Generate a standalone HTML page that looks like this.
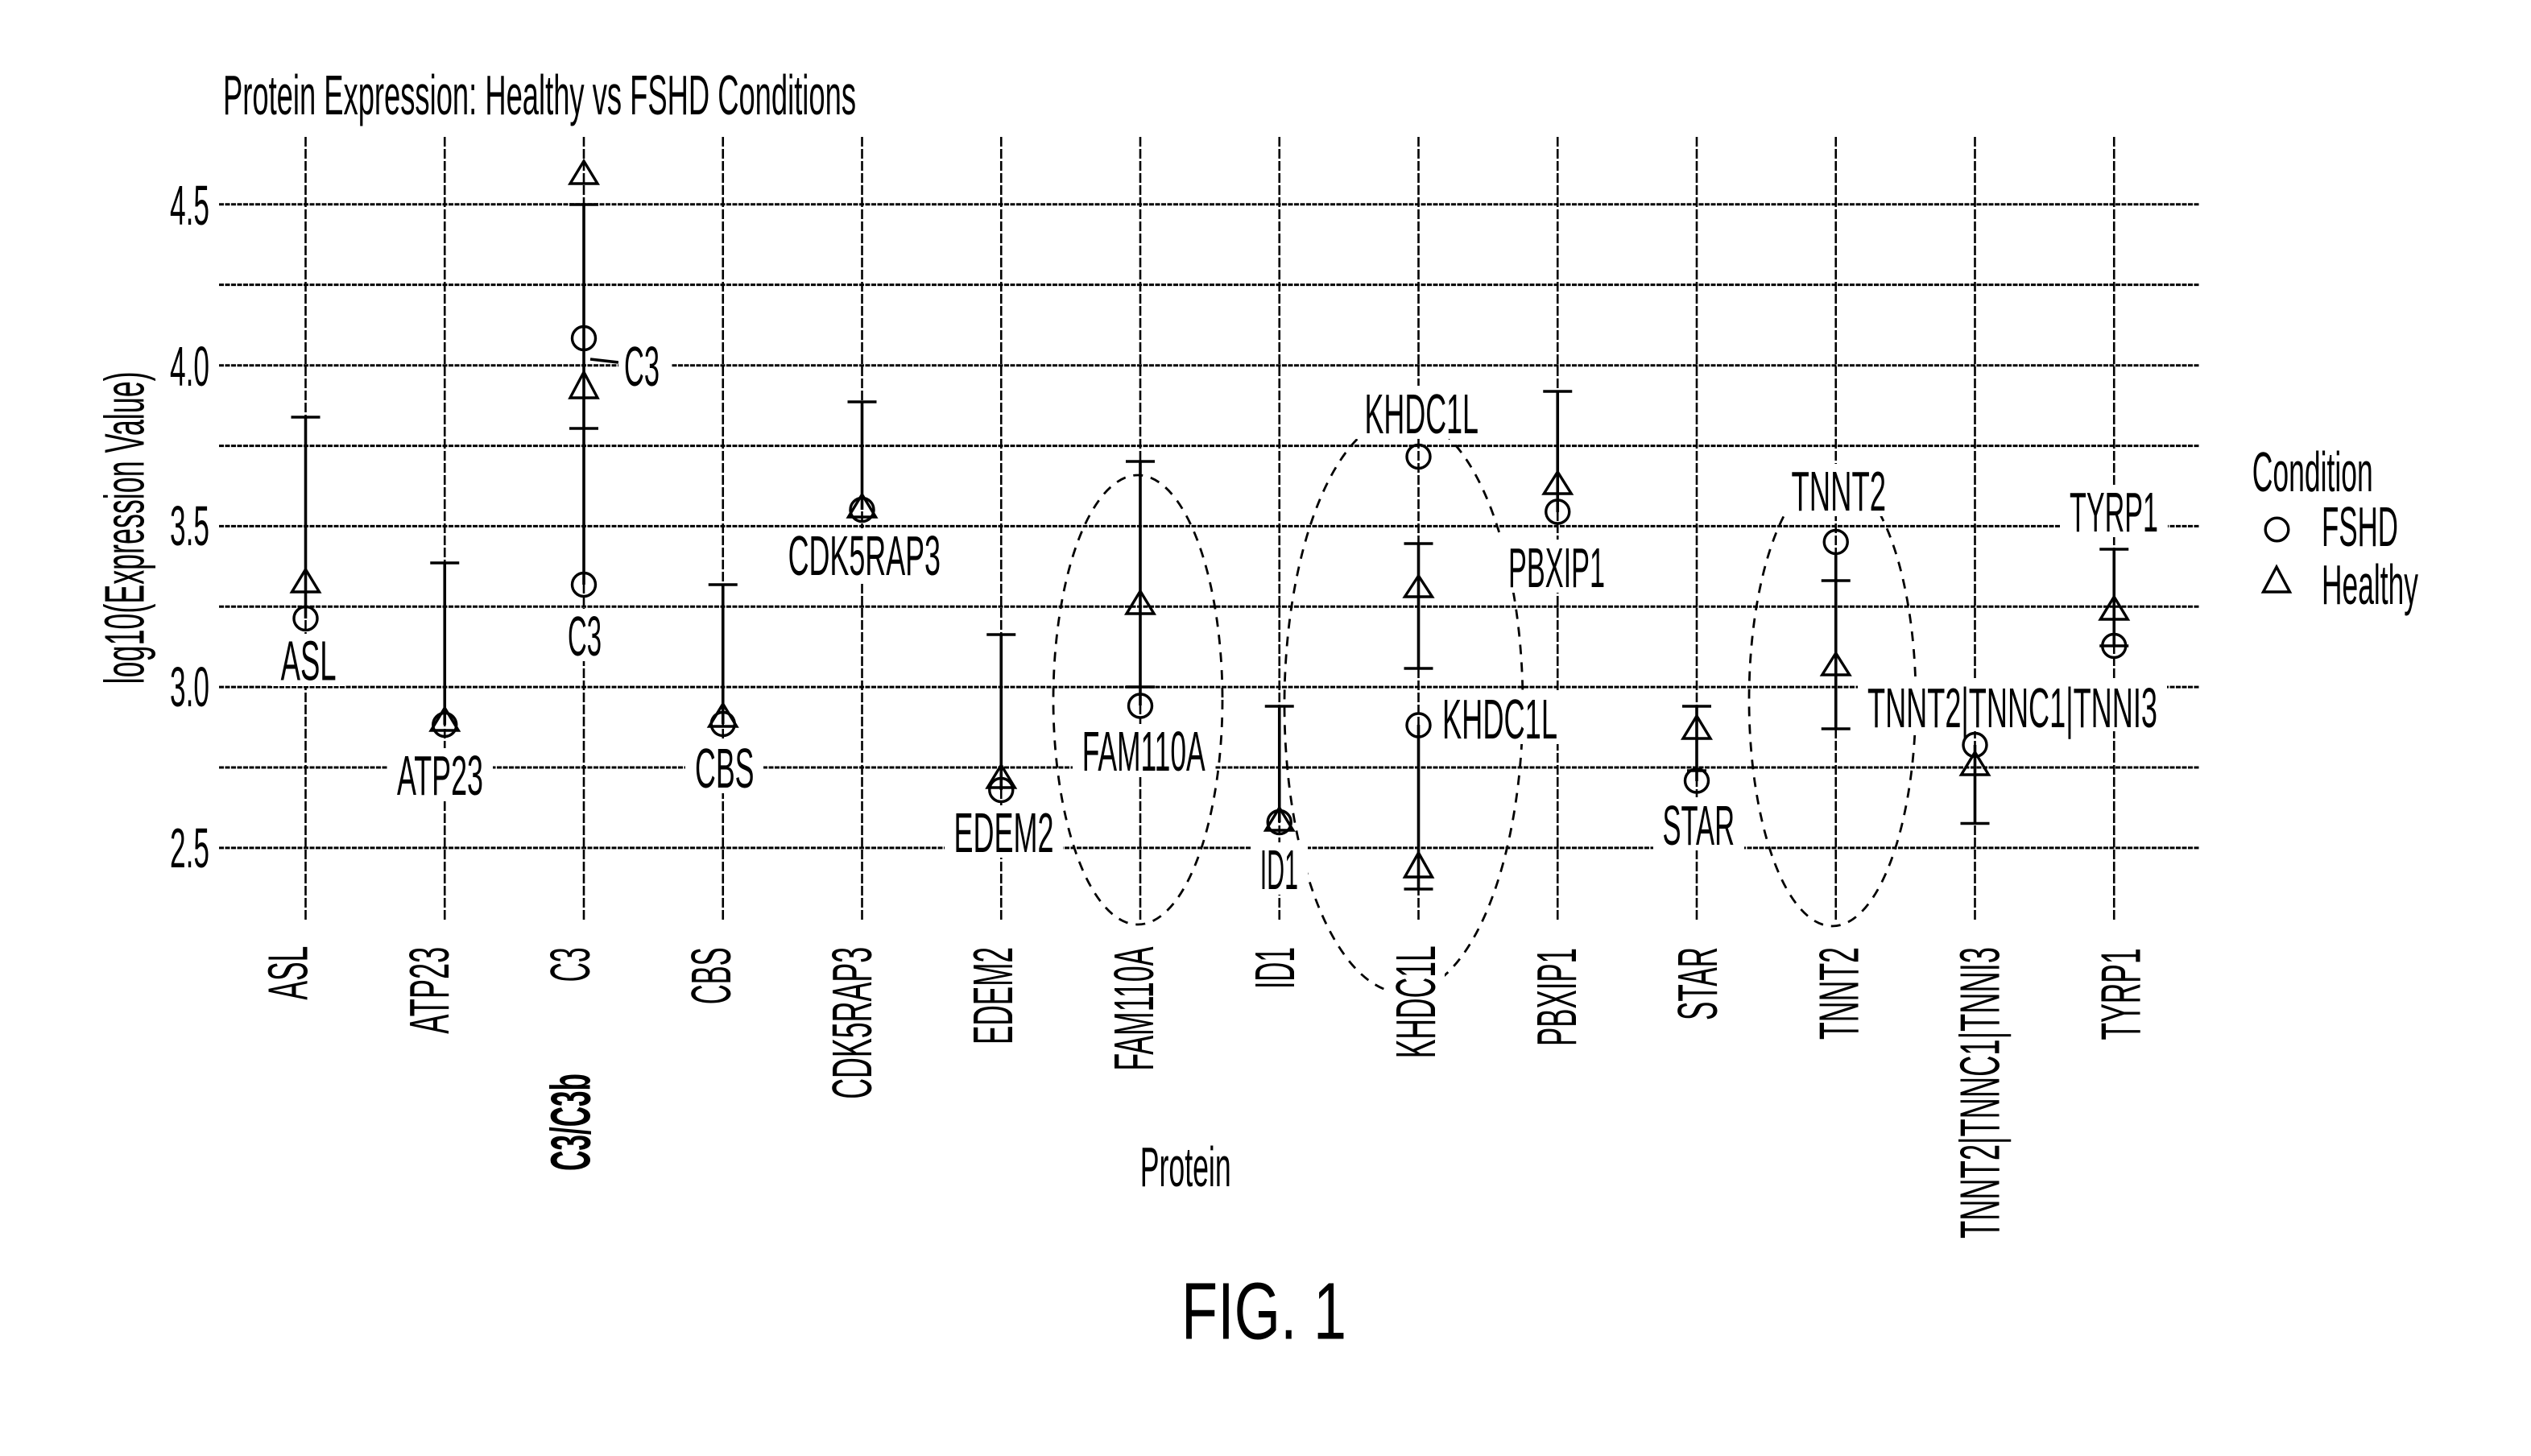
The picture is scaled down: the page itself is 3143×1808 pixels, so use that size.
<!DOCTYPE html>
<html>
<head>
<meta charset="utf-8">
<style>
  html, body { margin:0; padding:0; background:#fff; }
  svg { display:block; }
  text { font-family: "Liberation Sans", "DejaVu Sans", sans-serif; fill:#000; }
</style>
</head>
<body>
<svg xmlns="http://www.w3.org/2000/svg" width="3143" height="1808" viewBox="0 0 3143 1808">
  <rect x="0" y="0" width="3143" height="1808" fill="#fff"/>

  <!-- Title -->
  <text x="277" y="142" font-size="70" textLength="786" lengthAdjust="spacingAndGlyphs">Protein Expression: Healthy vs FSHD Conditions</text>

  <!-- Horizontal gridlines -->
  <g stroke="#000" stroke-width="3" stroke-dasharray="6 1.5" fill="none">
    <line x1="272" y1="253.7" x2="2731" y2="253.7"/>
    <line x1="272" y1="353.6" x2="2731" y2="353.6"/>
    <line x1="272" y1="453.8" x2="2731" y2="453.8"/>
    <line x1="272" y1="553.6" x2="2731" y2="553.6"/>
    <line x1="272" y1="653.4" x2="2731" y2="653.4"/>
    <line x1="272" y1="753.2" x2="2731" y2="753.2"/>
    <line x1="272" y1="853.1" x2="2731" y2="853.1"/>
    <line x1="272" y1="953" x2="2731" y2="953"/>
    <line x1="272" y1="1052.9" x2="2731" y2="1052.9"/>
  </g>

  <!-- Vertical gridlines -->
  <g stroke="#000" stroke-width="2.6" stroke-dasharray="12 3" fill="none">
    <line x1="379.5" y1="170" x2="379.5" y2="1145"/>
    <line x1="552.25" y1="170" x2="552.25" y2="1145"/>
    <line x1="725" y1="170" x2="725" y2="1145"/>
    <line x1="897.75" y1="170" x2="897.75" y2="1145"/>
    <line x1="1070.5" y1="170" x2="1070.5" y2="1145"/>
    <line x1="1243.25" y1="170" x2="1243.25" y2="1145"/>
    <line x1="1416" y1="170" x2="1416" y2="1145"/>
    <line x1="1588.75" y1="170" x2="1588.75" y2="1145"/>
    <line x1="1761.5" y1="170" x2="1761.5" y2="1145"/>
    <line x1="1934.25" y1="170" x2="1934.25" y2="1145"/>
    <line x1="2107" y1="170" x2="2107" y2="1145"/>
    <line x1="2279.75" y1="170" x2="2279.75" y2="1145"/>
    <line x1="2452.5" y1="170" x2="2452.5" y2="1145"/>
    <line x1="2625.25" y1="170" x2="2625.25" y2="1145"/>
  </g>

  <!-- Y tick labels -->
  <g font-size="70" text-anchor="end">
    <text x="260" y="279" textLength="49" lengthAdjust="spacingAndGlyphs">4.5</text>
    <text x="260" y="479" textLength="49" lengthAdjust="spacingAndGlyphs">4.0</text>
    <text x="260" y="677" textLength="49" lengthAdjust="spacingAndGlyphs">3.5</text>
    <text x="260" y="877" textLength="49" lengthAdjust="spacingAndGlyphs">3.0</text>
    <text x="260" y="1077" textLength="49" lengthAdjust="spacingAndGlyphs">2.5</text>
  </g>

  <!-- Y axis title -->
  <text transform="translate(178.5,849.4) rotate(-90)" font-size="70" textLength="388" lengthAdjust="spacingAndGlyphs">log10(Expression Value)</text>

  <!-- Dashed ellipses -->
  <g stroke="#000" stroke-width="2.8" stroke-dasharray="12 10" fill="none">
    <ellipse cx="1413" cy="869" rx="105" ry="279"/>
    <ellipse cx="1743" cy="875" rx="148" ry="358"/>
    <ellipse cx="2275.5" cy="869" rx="103.5" ry="281"/>
  </g>

  <!-- Error bars -->
  <g stroke="#000" stroke-width="3.6" fill="none">
    <line x1="379.5" y1="518" x2="379.5" y2="768"/>
    <line x1="361.5" y1="518" x2="397.5" y2="518"/>
    <line x1="552.25" y1="699" x2="552.25" y2="900"/>
    <line x1="534.25" y1="699" x2="570.25" y2="699"/>
    <line x1="725" y1="254" x2="725" y2="726"/>
    <line x1="707" y1="254" x2="743" y2="254"/>
    <line x1="707" y1="532" x2="743" y2="532"/>
    <line x1="733" y1="446" x2="768" y2="450"/>
    <line x1="897.75" y1="726" x2="897.75" y2="899"/>
    <line x1="879.75" y1="726" x2="915.75" y2="726"/>
    <line x1="1070.5" y1="499" x2="1070.5" y2="633"/>
    <line x1="1052.5" y1="499" x2="1088.5" y2="499"/>
    <line x1="1243.25" y1="788" x2="1243.25" y2="981"/>
    <line x1="1225.25" y1="788" x2="1261.25" y2="788"/>
    <line x1="1416" y1="573" x2="1416" y2="876"/>
    <line x1="1398" y1="573" x2="1434" y2="573"/>
    <line x1="1398" y1="853" x2="1434" y2="853"/>
    <line x1="1588.75" y1="877" x2="1588.75" y2="1021"/>
    <line x1="1570.75" y1="877" x2="1606.75" y2="877"/>
    <line x1="1761.5" y1="675" x2="1761.5" y2="830"/>
    <line x1="1743.5" y1="675" x2="1779.5" y2="675"/>
    <line x1="1743.5" y1="830" x2="1779.5" y2="830"/>
    <line x1="1761.5" y1="900" x2="1761.5" y2="1104"/>
    <line x1="1743.5" y1="1104" x2="1779.5" y2="1104"/>
    <line x1="1934.25" y1="486" x2="1934.25" y2="636"/>
    <line x1="1916.25" y1="486" x2="1952.25" y2="486"/>
    <line x1="2107" y1="877" x2="2107" y2="970"/>
    <line x1="2089" y1="877" x2="2125" y2="877"/>
    <line x1="2095" y1="957" x2="2119" y2="957"/>
    <line x1="2279.75" y1="689" x2="2279.75" y2="905"/>
    <line x1="2261.75" y1="721" x2="2297.75" y2="721"/>
    <line x1="2261.75" y1="905" x2="2297.75" y2="905"/>
    <line x1="2452.5" y1="925" x2="2452.5" y2="1022.5"/>
    <line x1="2434.5" y1="1022.5" x2="2470.5" y2="1022.5"/>
    <line x1="2625.25" y1="682" x2="2625.25" y2="802"/>
    <line x1="2607.25" y1="682" x2="2643.25" y2="682"/>
    <line x1="2607.25" y1="802" x2="2643.25" y2="802"/>
  </g>

  <!-- Circles (FSHD) -->
  <g stroke="#000" stroke-width="3.4" fill="none">
    <circle cx="379.5" cy="768" r="14.5"/>
    <circle cx="552.25" cy="900" r="14.5"/>
    <circle cx="725" cy="420" r="14.5"/>
    <circle cx="725" cy="726" r="14.5"/>
    <circle cx="897.75" cy="899" r="14.5"/>
    <circle cx="1070.5" cy="633" r="14.5"/>
    <circle cx="1243.25" cy="981" r="14.5"/>
    <circle cx="1416" cy="876.5" r="14.5"/>
    <circle cx="1588.75" cy="1021" r="14.5"/>
    <circle cx="1761.5" cy="567" r="14.5"/>
    <circle cx="1761.5" cy="900.5" r="14.5"/>
    <circle cx="1934.25" cy="635.5" r="14.5"/>
    <circle cx="2107" cy="969.5" r="14.5"/>
    <circle cx="2279.75" cy="673" r="14.5"/>
    <circle cx="2452.5" cy="925" r="14.5"/>
    <circle cx="2625.25" cy="802" r="14.5"/>
  </g>

  <!-- Triangles (Healthy) -->
  <g stroke="#000" stroke-width="3.4" fill="none" stroke-linejoin="miter">
    <polygon points="379.5,707 362.5,735 396.5,735"/>
    <polygon points="552.25,879 535.25,907 569.25,907"/>
    <polygon points="725,200 708,228 742,228"/>
    <polygon points="725,462 708,494 742,494"/>
    <polygon points="897.75,874 880.75,902 914.75,902"/>
    <polygon points="1070.5,614 1053.5,642 1087.5,642"/>
    <polygon points="1243.25,950 1226.25,978 1260.25,978"/>
    <polygon points="1416,734 1399,762 1433,762"/>
    <polygon points="1588.75,1003 1571.75,1031 1605.75,1031"/>
    <polygon points="1761.5,715 1744.5,741 1778.5,741"/>
    <polygon points="1761.5,1059 1744.5,1089 1778.5,1089"/>
    <polygon points="1934.25,586 1917.25,613 1951.25,613"/>
    <polygon points="2107,889 2090,917 2124,917"/>
    <polygon points="2279.75,811 2262.75,838 2296.75,838"/>
    <polygon points="2452.5,934 2435.5,962 2469.5,962"/>
    <polygon points="2625.25,741 2608.25,769 2642.25,769"/>
  </g>

  <!-- Data labels with white backgrounds -->
  <g fill="#fff" stroke="none">
    <rect x="337" y="787" width="92" height="65"/>
    <rect x="481" y="929" width="131" height="65"/>
    <rect x="768" y="421" width="66" height="65"/>
    <rect x="694" y="756" width="64" height="65"/>
    <rect x="851" y="920" width="97" height="65"/>
    <rect x="967" y="656" width="213" height="66"/>
    <rect x="1173" y="1000" width="147" height="65"/>
    <rect x="1332" y="899" width="176" height="65"/>
    <rect x="1553" y="1046" width="71" height="65"/>
    <rect x="1683" y="479" width="165" height="66"/>
    <rect x="1779" y="859" width="167" height="65"/>
    <rect x="1861" y="670" width="144" height="66"/>
    <rect x="2053" y="990" width="113" height="66"/>
    <rect x="2213" y="576" width="141" height="65"/>
    <rect x="2307" y="843" width="384" height="65"/>
    <rect x="2558" y="602" width="134" height="65"/>
    <!-- background behind rotated KHDC1L axis label (hides ellipse bottom) -->
    <rect x="1722" y="1166" width="72" height="158"/>
  </g>
  <g font-size="70">
    <text x="348.6" y="844.4" textLength="69" lengthAdjust="spacingAndGlyphs">ASL</text>
    <text x="493" y="987" textLength="107" lengthAdjust="spacingAndGlyphs">ATP23</text>
    <text x="775" y="479" textLength="44" lengthAdjust="spacingAndGlyphs">C3</text>
    <text x="705" y="814" textLength="42" lengthAdjust="spacingAndGlyphs">C3</text>
    <text x="863" y="978" textLength="73.5" lengthAdjust="spacingAndGlyphs">CBS</text>
    <text x="978.6" y="714" textLength="189.4" lengthAdjust="spacingAndGlyphs">CDK5RAP3</text>
    <text x="1184.5" y="1058" textLength="124" lengthAdjust="spacingAndGlyphs">EDEM2</text>
    <text x="1343.7" y="957" textLength="153" lengthAdjust="spacingAndGlyphs">FAM110A</text>
    <text x="1564.7" y="1104" textLength="47.3" lengthAdjust="spacingAndGlyphs">ID1</text>
    <text x="1694.5" y="538" textLength="141.5" lengthAdjust="spacingAndGlyphs">KHDC1L</text>
    <text x="1791" y="917" textLength="143" lengthAdjust="spacingAndGlyphs">KHDC1L</text>
    <text x="1873" y="729" textLength="120" lengthAdjust="spacingAndGlyphs">PBXIP1</text>
    <text x="2064.5" y="1049" textLength="89.5" lengthAdjust="spacingAndGlyphs">STAR</text>
    <text x="2224.5" y="634" textLength="117.5" lengthAdjust="spacingAndGlyphs">TNNT2</text>
    <text x="2319" y="903" textLength="360" lengthAdjust="spacingAndGlyphs">TNNT2|TNNC1|TNNI3</text>
    <text x="2570" y="660" textLength="110" lengthAdjust="spacingAndGlyphs">TYRP1</text>
  </g>

  <!-- X axis category labels (rotated) -->
  <g font-size="70">
    <text transform="translate(381.7,1241.6) rotate(-90)" textLength="67" lengthAdjust="spacingAndGlyphs">ASL</text>
    <text transform="translate(556.8,1283.7) rotate(-90)" textLength="108" lengthAdjust="spacingAndGlyphs">ATP23</text>
    <text transform="translate(731.8,1219.4) rotate(-90)" textLength="43" lengthAdjust="spacingAndGlyphs">C3</text>
    <text transform="translate(906.9,1247.3) rotate(-90)" textLength="71" lengthAdjust="spacingAndGlyphs">CBS</text>
    <text transform="translate(1081.9,1364.8) rotate(-90)" textLength="189" lengthAdjust="spacingAndGlyphs">CDK5RAP3</text>
    <text transform="translate(1257,1297) rotate(-90)" textLength="121" lengthAdjust="spacingAndGlyphs">EDEM2</text>
    <text transform="translate(1432,1329.6) rotate(-90)" textLength="154" lengthAdjust="spacingAndGlyphs">FAM110A</text>
    <text transform="translate(1607.1,1228) rotate(-90)" textLength="52" lengthAdjust="spacingAndGlyphs">ID1</text>
    <text transform="translate(1782.1,1314.3) rotate(-90)" textLength="140" lengthAdjust="spacingAndGlyphs">KHDC1L</text>
    <text transform="translate(1957.2,1299) rotate(-90)" textLength="122" lengthAdjust="spacingAndGlyphs">PBXIP1</text>
    <text transform="translate(2132.2,1267) rotate(-90)" textLength="91" lengthAdjust="spacingAndGlyphs">STAR</text>
    <text transform="translate(2307.3,1291) rotate(-90)" textLength="115" lengthAdjust="spacingAndGlyphs">TNNT2</text>
    <text transform="translate(2482.3,1538) rotate(-90)" textLength="362" lengthAdjust="spacingAndGlyphs">TNNT2|TNNC1|TNNI3</text>
    <text transform="translate(2657.4,1291.5) rotate(-90)" textLength="114" lengthAdjust="spacingAndGlyphs">TYRP1</text>
  </g>
  <text transform="translate(732.4,1454) rotate(-90)" font-size="70" font-weight="bold" textLength="121" lengthAdjust="spacingAndGlyphs">C3/C3b</text>

  <!-- X axis title -->
  <text x="1415.7" y="1473" font-size="70" textLength="113" lengthAdjust="spacingAndGlyphs">Protein</text>

  <!-- Legend -->
  <text x="2796.7" y="610" font-size="70" textLength="150" lengthAdjust="spacingAndGlyphs">Condition</text>
  <circle cx="2827.5" cy="657.5" r="14.3" stroke="#000" stroke-width="3.4" fill="none"/>
  <text x="2883" y="678" font-size="70" textLength="95" lengthAdjust="spacingAndGlyphs">FSHD</text>
  <polygon points="2827,704 2810.5,735 2843.5,735" stroke="#000" stroke-width="3.4" fill="none"/>
  <text x="2883" y="750" font-size="70" textLength="120" lengthAdjust="spacingAndGlyphs">Healthy</text>

  <!-- Figure label -->
  <text x="1467" y="1662.6" font-size="100" textLength="205" lengthAdjust="spacingAndGlyphs">FIG. 1</text>
</svg>
</body>
</html>
